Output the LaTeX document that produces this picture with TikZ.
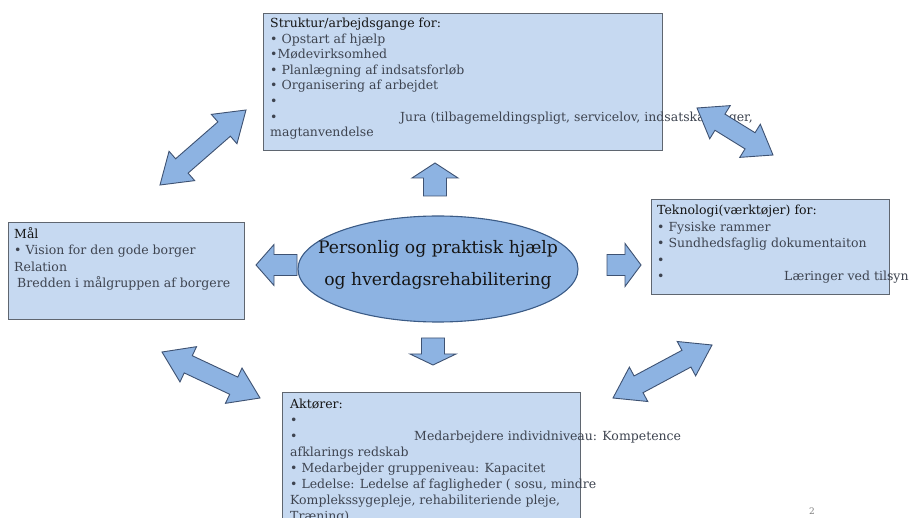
\documentclass[tikz,border=0pt]{standalone}
\usepackage{fontspec}
\setmainfont{DejaVu Serif}
\usetikzlibrary{calc,shapes.geometric}
\definecolor{boxfill}{HTML}{C6D9F1}
\definecolor{boxline}{HTML}{5F6670}
\definecolor{ellfill}{HTML}{8DB3E2}
\definecolor{ellline}{HTML}{3B5B86}
\definecolor{arrfill}{HTML}{8DB3E2}
\definecolor{arrline}{HTML}{3E5272}
\definecolor{txt}{HTML}{3E4450}
\definecolor{txthead}{HTML}{151515}
\tikzset{
  panel/.style={draw=boxline, fill=boxfill, line width=1.1pt, rectangle, anchor=north west, inner sep=0pt},
  line/.style={anchor=base west, inner sep=0pt, font=\fontsize{12.5}{15}\selectfont, text=txt},
  head/.style={line, text=txthead},
  bigline/.style={anchor=base, inner sep=0pt, font=\fontsize{17.2}{20}\selectfont, text=txthead},
  blockarrow/.style={draw=arrline, fill=arrfill, line width=0.9pt, line join=miter},
}
\newcommand\singlearr[5]{%
  \coordinate (sh) at ($(#2)!#5!(#1)$);
  \draw[blockarrow] ($(#1)!#3!90:(#2)$) -- ($(sh)!#3!90:(#2)$) -- ($(sh)!#4!90:(#2)$) -- (#2)
    -- ($(sh)!#4!-90:(#2)$) -- ($(sh)!#3!-90:(#2)$) -- ($(#1)!#3!-90:(#2)$) -- cycle;}
\newcommand\doublearr[5]{%
  \coordinate (ha) at ($(#1)!#5!(#2)$);
  \coordinate (hb) at ($(#2)!#5!(#1)$);
  \draw[blockarrow] (#1) -- ($(ha)!#4!90:(#2)$) -- ($(ha)!#3!90:(#2)$) -- ($(hb)!#3!90:(#2)$)
    -- ($(hb)!#4!90:(#2)$) -- (#2) -- ($(hb)!#4!-90:(#2)$) -- ($(hb)!#3!-90:(#2)$)
    -- ($(ha)!#3!-90:(#2)$) -- ($(ha)!#4!-90:(#2)$) -- cycle;}
\begin{document}
\begin{tikzpicture}[x=1pt,y=-1pt]
\useasboundingbox[fill=white] (0,0) rectangle (910,518);

% panels
\node[panel, minimum width=399pt, minimum height=137pt] (struktur) at (263,13) {};
\node[panel, minimum width=236pt, minimum height=97pt] (maal) at (8,222) {};
\node[panel, minimum width=238pt, minimum height=95pt] (tekno) at (651,199) {};
\node[panel, minimum width=298pt, minimum height=150pt] (aktor) at (282,392) {};

% top panel text
\node[head] (s0) at (270,27.5) {Struktur/arbejdsgange for:};
\foreach \t [count=\i] in {{• Opstart af hjælp},{•Mødevirksomhed},{• Planlægning af indsatsforløb},{• Organisering af arbejdet},{•},{\makebox[130pt][l]{•}Jura (tilbagemeldingspligt, servicelov, indsatskataloger,},{magtanvendelse}}
  \node[line] (s\i) at (270,27.5+15.6*\i) {\t};

% left panel text
\node[head] (m0) at (14,238.5) {Mål};
\node[line] (m1) at (14,255) {• Vision for den gode borger};
\node[line] (m2) at (14,271.5) {Relation};
\node[line] (m3) at (17,288) {Bredden i målgruppen af borgere};

% right panel text
\node[head] (k0) at (657,215) {Teknologi(værktøjer) for:};
\foreach \t [count=\i] in {{• Fysiske rammer},{• Sundhedsfaglig dokumentaiton},{•},{\makebox[127pt][l]{•}Læringer ved tilsyn}}
  \node[line] (k\i) at (657,215+16.5*\i) {\t};

% bottom panel text
\node[head] (a0) at (290,408) {Aktører:};
\foreach \t [count=\i] in {{•},{\makebox[124pt][l]{•}Medarbejdere individniveau: Kompetence},{afklarings redskab},{• Medarbejder gruppeniveau: Kapacitet},{• Ledelse: Ledelse af fagligheder ( sosu, mindre},{Komplekssygepleje, rehabiliteriende pleje,},{Træning)}}
  \node[line] (a\i) at (290,408+16.1*\i) {\t};

% centre ellipse
\node[ellipse, draw=ellline, fill=ellfill, line width=1.1pt, minimum width=280pt, minimum height=106pt, inner sep=0pt] (centre) at (438,269) {};
\node[bigline] (c1) at (438,254) {Personlig og praktisk hjælp};
\node[bigline] (c2) at (438,286) {og hverdagsrehabilitering};

% single block arrows
\coordinate (upT) at (435,196); \coordinate (upH) at (435,163);
\coordinate (dnT) at (433,338); \coordinate (dnH) at (433,365);
\coordinate (lfT) at (297,265); \coordinate (lfH) at (256,265);
\coordinate (rtT) at (607,265); \coordinate (rtH) at (641,265);
\singlearr{upT}{upH}{11.5pt}{23pt}{15pt}
\singlearr{dnT}{dnH}{11.5pt}{23pt}{11pt}
\singlearr{lfT}{lfH}{10.5pt}{20.5pt}{18pt}
\singlearr{rtT}{rtH}{10.5pt}{21.5pt}{16pt}

% double block arrows
\coordinate (tlA) at (160,185); \coordinate (tlB) at (246,110);
\coordinate (trA) at (697,108); \coordinate (trB) at (773,155);
\coordinate (blA) at (162,352); \coordinate (blB) at (260,398);
\coordinate (brA) at (613,398); \coordinate (brB) at (712,345);
\doublearr{tlA}{tlB}{9.5pt}{19.5pt}{29pt}
\doublearr{trA}{trB}{9.5pt}{19.5pt}{27pt}
\doublearr{blA}{blB}{9.5pt}{19.5pt}{29pt}
\doublearr{brA}{brB}{9.5pt}{19.5pt}{29pt}

\node[font=\fontsize{9}{10}\selectfont, text=gray, inner sep=0pt] (page) at (812,511) {2};
\end{tikzpicture}
\end{document}
